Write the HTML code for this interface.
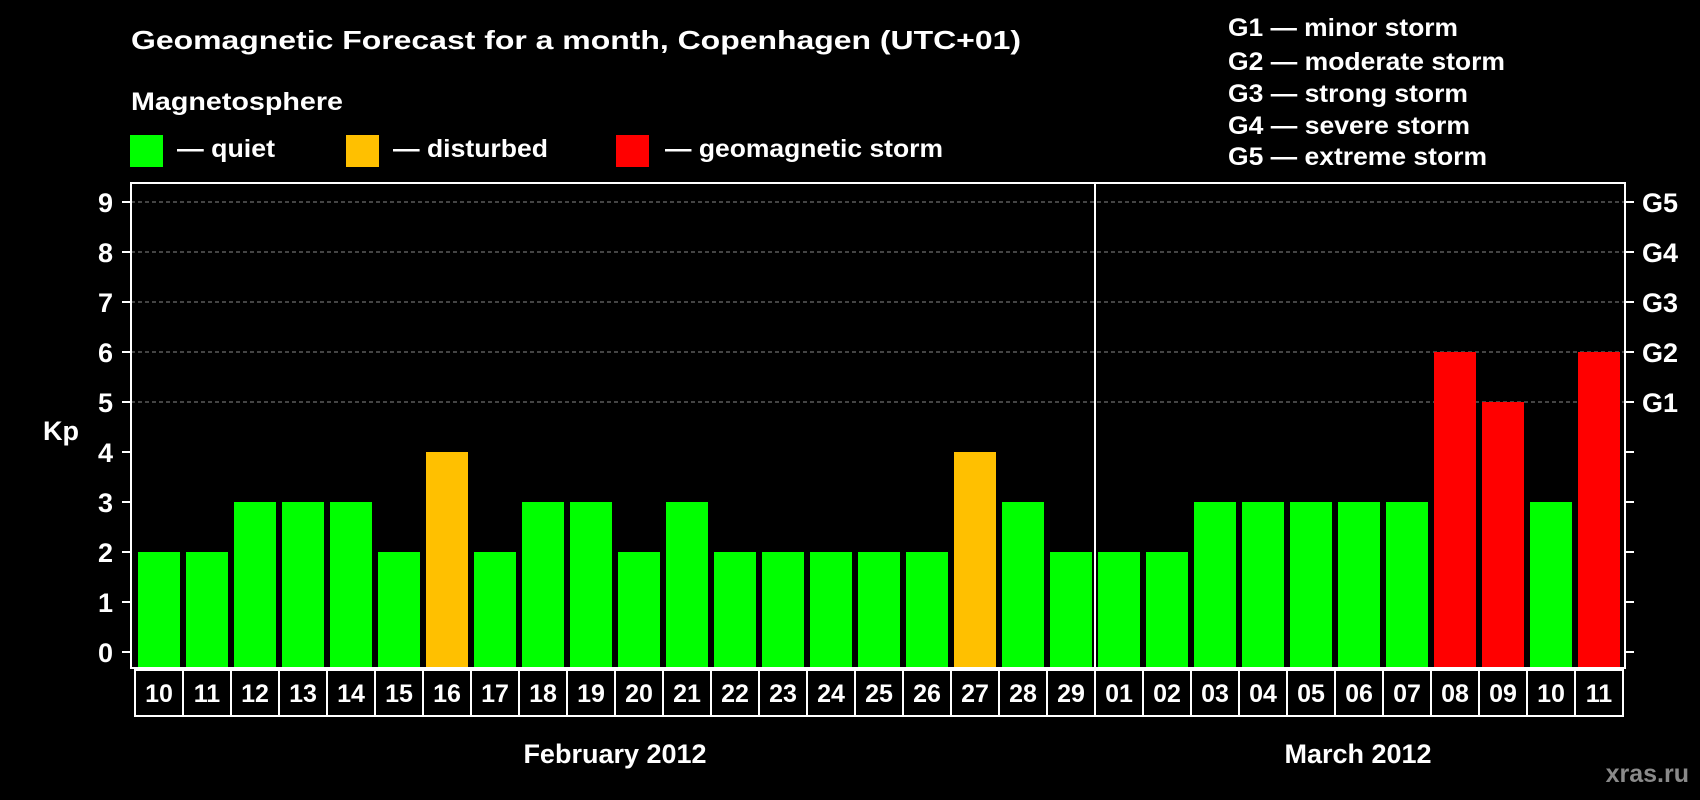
<!DOCTYPE html>
<html><head><meta charset="utf-8"><style>
html,body{margin:0;padding:0;background:#000;}
svg{display:block;font-family:"Liberation Sans",Arial,sans-serif;font-weight:bold;}
</style></head><body>
<svg id="chart" width="1700" height="800" viewBox="0 0 1700 800">
<text x="131" y="49" fill="#fff" font-size="26" textLength="890" lengthAdjust="spacingAndGlyphs">Geomagnetic Forecast for a month, Copenhagen (UTC+01)</text>
<text x="131" y="110" fill="#fff" font-size="25" textLength="212" lengthAdjust="spacingAndGlyphs">Magnetosphere</text>
<g><rect x="130" y="135" width="33" height="32" fill="#00ff00"/><text x="177" y="157" fill="#fff" font-size="25" textLength="98" lengthAdjust="spacingAndGlyphs">— quiet</text></g>
<g><rect x="346" y="135" width="33" height="32" fill="#ffc000"/><text x="393" y="157" fill="#fff" font-size="25" textLength="155" lengthAdjust="spacingAndGlyphs">— disturbed</text></g>
<g><rect x="616" y="135" width="33" height="32" fill="#ff0000"/><text x="665" y="157" fill="#fff" font-size="25" textLength="278" lengthAdjust="spacingAndGlyphs">— geomagnetic storm</text></g>
<g fill="#fff" font-size="25">
<text x="1228" y="36" textLength="230" lengthAdjust="spacingAndGlyphs">G1 — minor storm</text>
<text x="1228" y="70" textLength="277" lengthAdjust="spacingAndGlyphs">G2 — moderate storm</text>
<text x="1228" y="102" textLength="240" lengthAdjust="spacingAndGlyphs">G3 — strong storm</text>
<text x="1228" y="134" textLength="242" lengthAdjust="spacingAndGlyphs">G4 — severe storm</text>
<text x="1228" y="165" textLength="259" lengthAdjust="spacingAndGlyphs">G5 — extreme storm</text>
</g>
<text x="43" y="440" fill="#fff" font-size="27">Kp</text>
<g id="grid"></g><g id="bars"></g><g id="axes"></g>
<text x="615" y="763" fill="#fff" font-size="27" text-anchor="middle">February 2012</text>
<text x="1358" y="763" fill="#fff" font-size="27" text-anchor="middle">March 2012</text>
<text x="1689" y="782" fill="#8a8a8a" font-size="25" text-anchor="end">xras.ru</text>
</svg>
<script>
const days = ["10","11","12","13","14","15","16","17","18","19","20","21","22","23","24","25","26","27","28","29","01","02","03","04","05","06","07","08","09","10","11"];
const kp = [2,2,3,3,3,2,4,2,3,3,2,3,2,2,2,2,2,4,3,2,2,2,3,3,3,3,3,6,5,3,6];
const yTicks = ["0","1","2","3","4","5","6","7","8","9"];
const gLabels = ["G1","G2","G3","G4","G5"];
const NS="http://www.w3.org/2000/svg";
const L=131,R=1625,T=183,B=668,Y0=652,U=50,X0=138,P=48,BW=42;
const y=v=>Y0-v*U, x=i=>X0+i*P;
function mk(tag,attrs,parent){const e=document.createElementNS(NS,tag);for(const k in attrs)e.setAttribute(k,attrs[k]);parent.appendChild(e);return e;}
const grid=document.getElementById('grid'),bars=document.getElementById('bars'),axes=document.getElementById('axes');
for(let v=5;v<=9;v++){const g=mk('line',{x1:L,x2:R,y1:y(v),y2:y(v),stroke:'#888','stroke-dasharray':'4,3','stroke-width':1},grid);

}
kp.forEach((v,i)=>{const c=v>=5?'#ff0000':(v>=4?'#ffc000':'#00ff00');
const r=mk('rect',{x:x(i),y:y(v),width:BW,height:B-y(v),fill:c},bars);

});
const f=mk('rect',{x:L,y:T,width:R-L,height:B-T,fill:'none',stroke:'#fff','stroke-width':2},axes);


const sep=mk('line',{x1:x(20)-3,x2:x(20)-3,y1:T,y2:B,stroke:'#fff','stroke-width':2},axes);


yTicks.forEach((t,v)=>{mk('line',{x1:L-9,x2:L,y1:y(v),y2:y(v),stroke:'#fff','stroke-width':2},axes);
mk('line',{x1:R,x2:R+9,y1:y(v),y2:y(v),stroke:'#fff','stroke-width':2},axes);
const tx=mk('text',{x:113,y:y(v)+10,fill:'#fff','font-size':27,'text-anchor':'end'},axes);tx.textContent=t;

});
gLabels.forEach((g,i)=>{const tx=mk('text',{x:1642,y:y(i+5)+10,fill:'#fff','font-size':27},axes);tx.textContent=g;

});
const bx=135;
const box=mk('rect',{x:bx,y:670,width:P*days.length,height:46,fill:'none',stroke:'#fff','stroke-width':2},axes);


days.forEach((d,i)=>{if(i>0)mk('line',{x1:bx+i*P,x2:bx+i*P,y1:670,y2:716,stroke:'#fff','stroke-width':2},axes);
const tx=mk('text',{x:bx+i*P+P/2,y:702,fill:'#fff','font-size':25,'text-anchor':'middle'},axes);tx.textContent=d;

});
</script>
</body></html>
